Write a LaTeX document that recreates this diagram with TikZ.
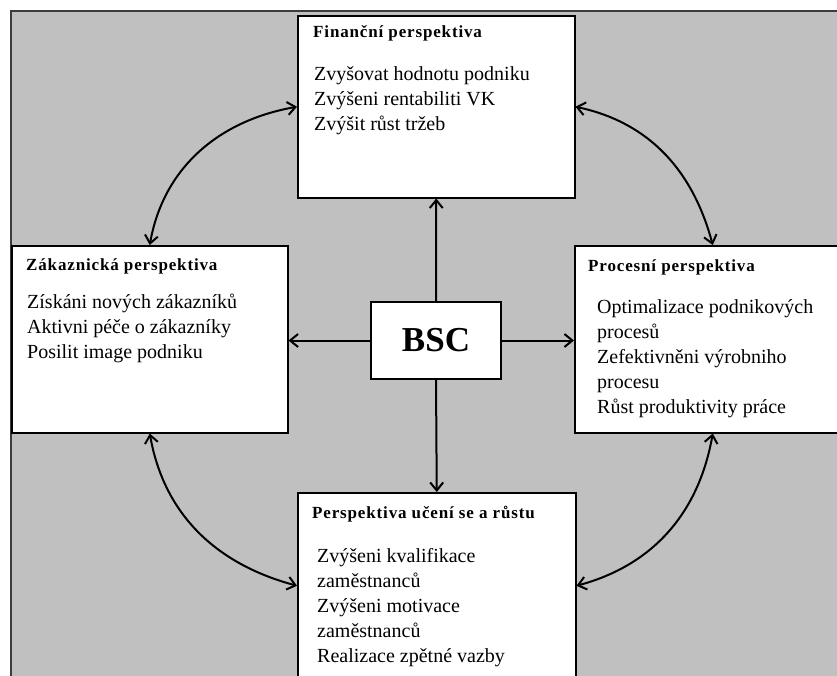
\documentclass[tikz,border=0pt]{standalone}
\usepackage{fontspec}
\setmainfont{Liberation Serif}
\usetikzlibrary{arrows.meta}
\definecolor{panel}{HTML}{C0C0C0}
\definecolor{frameline}{HTML}{3C3C3C}
\begin{document}
\begin{tikzpicture}[x=1pt,y=1pt,
  box/.style={draw=black, line width=1.5pt, fill=white, inner sep=0pt, anchor=north west},
  title/.style={anchor=base west, inner sep=0pt,
    font=\fontsize{17}{20}\selectfont\bfseries\addfontfeature{LetterSpace=5}},
  body/.style={anchor=north west, inner sep=0pt, align=left,
    font=\fontsize{20}{25}\selectfont},
  tip/.style={Straight Barb[length=8pt,width=13pt]},
  link/.style={line width=2pt, {Straight Barb[length=8pt,width=13pt]}-{Straight Barb[length=8pt,width=13pt]}},
  spoke/.style={line width=2pt, -{Straight Barb[length=8pt,width=13pt]}}]

\useasboundingbox (0,0) rectangle (837,-675);
\clip (0,0) rectangle (837,-675);

% grey panel behind the scorecard
\draw[frameline, line width=2pt, fill=panel] (11,-11) rectangle (870,-700);

% the four perspectives and the centre
\node[box, minimum width=277pt, minimum height=182pt] (fin)   at (297,-15)  {};
\node[box, minimum width=276pt, minimum height=187pt] (cust)  at (11,-245)  {};
\node[box, minimum width=276pt, minimum height=187pt] (proc)  at (574,-245) {};
\node[box, minimum width=278pt, minimum height=186pt] (learn) at (297,-492) {};
\node[draw=black, line width=1.5pt, fill=white, minimum width=130pt, minimum height=77pt,
      inner sep=0pt, font=\fontsize{35}{40}\selectfont\bfseries] (bsc) at (436,-340.5) {BSC};

% headings
\node[title] (finT)   at (313,-37)  {Finanční perspektiva};
\node[title] (custT)  at (26,-270)  {Zákaznická perspektiva};
\node[title] (procT)  at (588,-271) {Procesní perspektiva};
\node[title] (learnT) at (312,-518) {Perspektiva učení se a růstu};

% goals of each perspective
\node[body] (finB) at (314,-64) {\rule{0pt}{16pt}Zvyšovat hodnotu podniku\\Zvýšeni rentabiliti VK\\Zvýšit růst tržeb};
\node[body] (custB) at (27,-292) {\rule{0pt}{16pt}Získáni nových zákazníků\\Aktivni péče o zákazníky\\Posilit image podniku};
\node[body] (procB) at (597,-297) {\rule{0pt}{16pt}Optimalizace podnikových\\procesů\\Zefektivněni výrobniho\\procesu\\Růst produktivity práce};
\node[body] (learnB) at (317,-546) {\rule{0pt}{16pt}Zvýšeni kvalifikace\\zaměstnanců\\Zvýšeni motivace\\zaměstnanců\\Realizace zpětné vazby};

% BSC to each perspective
\draw[spoke] (bsc.north) -- (fin.south);
\draw[spoke] (bsc.south) -- (learn.north);
\draw[spoke] (bsc.west) -- (bsc.west -| cust.east);
\draw[spoke] (bsc.east) -- (bsc.east -| proc.west);

% links between neighbouring perspectives
\draw[link] (cust.north) to[out=80, in=190] (fin.west);
\draw[link] (fin.east) to[out=-12, in=105] (proc.north);
\draw[link] (cust.south) to[out=-80, in=165] (learn.west);
\draw[link] (proc.south) to[out=-100, in=15] (learn.east);
\end{tikzpicture}
\end{document}
